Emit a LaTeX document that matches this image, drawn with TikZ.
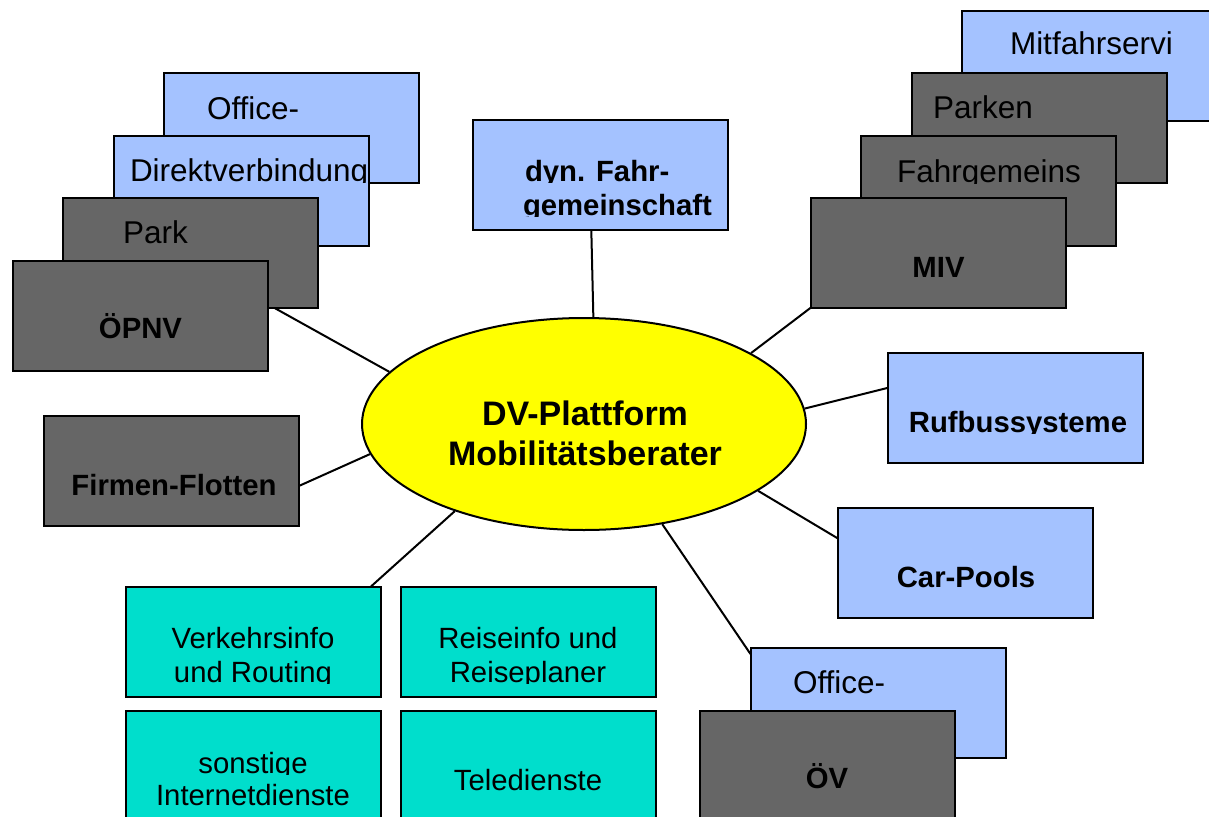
\documentclass[tikz,border=0pt]{standalone}
\usepackage{fontspec}
\setmainfont{Liberation Sans}
\usetikzlibrary{shapes.geometric,backgrounds}

\definecolor{boxblue}{RGB}{164,194,255}
\definecolor{boxgray}{RGB}{102,102,102}
\definecolor{boxteal}{RGB}{0,222,204}
\definecolor{hubyellow}{RGB}{255,255,0}

\newcommand\boxfont{\fontsize{29.3}{34}\selectfont}
\newcommand\stackfont{\fontsize{31.5}{36}\selectfont}
\newcommand\hubfont{\fontsize{34}{40}\selectfont\bfseries}

% one text line, cut to a rectangle (#4 to #5)
\newcommand\cliplabel[6]{%
  \begin{scope}
    \clip #4 rectangle #5;
    \node[#2] (#1) at #3 {#6};
  \end{scope}}

\begin{document}
\begin{tikzpicture}[x=1pt,y=-1pt,
  box/.style={draw=black, line width=2pt, minimum width=255pt, minimum height=110pt,
              inner sep=0pt, outer sep=0pt},
  bluebox/.style={box, fill=boxblue},
  graybox/.style={box, fill=boxgray},
  tealbox/.style={box, fill=boxteal},
  link/.style={draw=black, line width=2pt},
  lbl/.style={inner sep=0pt, outer sep=0pt, font=\boxfont},
  lbls/.style={inner sep=0pt, outer sep=0pt, font=\stackfont},
  lblb/.style={inner sep=0pt, outer sep=0pt, font=\boxfont\bfseries},
  hubtext/.style={inner sep=0pt, outer sep=0pt, font=\hubfont, anchor=base},
]
\useasboundingbox (0,0) rectangle (1209,816);

% central platform
\node[ellipse, draw=black, line width=2pt, fill=hubyellow, minimum width=444pt,
      minimum height=212pt, inner sep=0pt] (plat) at (584,424) {};
\node[hubtext] (plat1) at (585,425) {DV-Plattform};
\node[hubtext] (plat2) at (585,465) {Mobilitätsberater};

% left stack
\node[bluebox] (office1) at (291.5,128) {};
\cliplabel{office1-t}{lbls, anchor=base west}{(207,119)}{(165,73)}{(418,120.5)}{Office-}
\node[bluebox] (direkt) at (241.5,190.5) {};
\cliplabel{direkt-t}{lbls, anchor=base west}{(130,181)}{(114,136)}{(369,182.5)}{Direktverbindung}
\node[graybox] (park) at (190.5,252.5) {};
\cliplabel{park-t}{lbls, anchor=base west}{(123,243)}{(63,197)}{(318,244.5)}{Park}
\node[graybox] (opnv) at (140.5,315.5) {};
\cliplabel{opnv-t}{lblb, anchor=base}{(140.5,338)}{(13,260)}{(268,371)}{ÖPNV}

% right stack
\node[bluebox] (mitfahr) at (1089.5,66) {};
\cliplabel{mitfahr-t}{lbls, anchor=base west}{(1010,55)}{(962,11)}{(1217,56.5)}{Mitfahrservi}
\node[graybox] (parken) at (1039.5,128) {};
\cliplabel{parken-t}{lbls, anchor=base west}{(933,118)}{(912,73)}{(1167,119.5)}{Parken}
\node[graybox] (fahrgem) at (988,191) {};
\cliplabel{fahrgem-t}{lbls, anchor=base west}{(897,182)}{(861,136)}{(1115,183.5)}{Fahrgemeins}
\node[graybox] (miv) at (938.5,252.5) {};
\cliplabel{miv-t}{lblb, anchor=base}{(938.5,277)}{(811,198)}{(1066,307)}{MIV}

% single boxes
\node[bluebox] (dyn) at (600,174.5) {};
\cliplabel{dyn-t1}{lblb, anchor=base west}{(525,181)}{(473,120)}{(727,182.5)}{dyn. Fahr-}
\cliplabel{dyn-t2}{lblb, anchor=base west}{(523,215)}{(473,182.5)}{(727,216.5)}{gemeinschaft}

\node[bluebox] (rufbus) at (1015.5,408) {};
\cliplabel{rufbus-t}{lblb, anchor=base}{(1018,432)}{(888,353)}{(1143,433.5)}{Rufbussysteme}

\node[bluebox] (carpools) at (965,563) {};
\cliplabel{carpools-t}{lblb, anchor=base}{(966,587)}{(837,508)}{(1093,618)}{Car-Pools}

\node[graybox] (firmen) at (171,470.5) {};
\cliplabel{firmen-t}{lblb, anchor=base}{(174,495)}{(43,415)}{(299,526)}{Firmen-Flotten}

% lower right stack
\node[bluebox] (office2) at (878,703) {};
\cliplabel{office2-t}{lbls, anchor=base west}{(793,693)}{(751,648)}{(1005,694.5)}{Office-}
\node[graybox] (ov) at (827,765.5) {};
\cliplabel{ov-t}{lblb, anchor=base}{(827,788)}{(699,710)}{(955,821)}{ÖV}

% information services
\node[tealbox] (verkehr) at (253,641.5) {};
\cliplabel{verkehr-t1}{lbl, anchor=base}{(253,648)}{(126,586)}{(380,649.5)}{Verkehrsinfo}
\cliplabel{verkehr-t2}{lbl, anchor=base}{(253,682)}{(126,649.5)}{(380,683.5)}{und Routing}
\node[tealbox] (reise) at (528,641.5) {};
\cliplabel{reise-t1}{lbl, anchor=base}{(528,648)}{(400,586)}{(656,649.5)}{Reiseinfo und}
\cliplabel{reise-t2}{lbl, anchor=base}{(528,682)}{(400,649.5)}{(656,683.5)}{Reiseplaner}
\node[tealbox] (sonst) at (253,765.5) {};
\cliplabel{sonst-t1}{lbl, anchor=base}{(253,773)}{(126,710)}{(380,774.5)}{sonstige}
\cliplabel{sonst-t2}{lbl, anchor=base}{(253,805)}{(126,774.5)}{(380,806.5)}{Internetdienste}
\node[tealbox] (tele) at (528,765.5) {};
\cliplabel{tele-t}{lbl, anchor=base}{(528,790)}{(400,710)}{(656,791.5)}{Teledienste}

% connectors, behind everything
\begin{scope}[on background layer]
  \draw[link] (opnv.5.15)       -- (plat.165.8);
  \draw[link] (dyn.261.65)      -- (plat.85.68);
  \draw[link] (miv.south west)  -- (plat.23.2);
  \draw[link] (rufbus.171.96)   -- (plat.4.1);
  \draw[link] (carpools.169.8)  -- (plat.339.2);
  \draw[link] (office2.159.3)   -- (plat.308.9);
  \draw[link] (verkehr.25.4)    -- (plat.214.7);
  \draw[link] (firmen.353.98)   -- (plat.188.2);
\end{scope}
\end{tikzpicture}
\end{document}
